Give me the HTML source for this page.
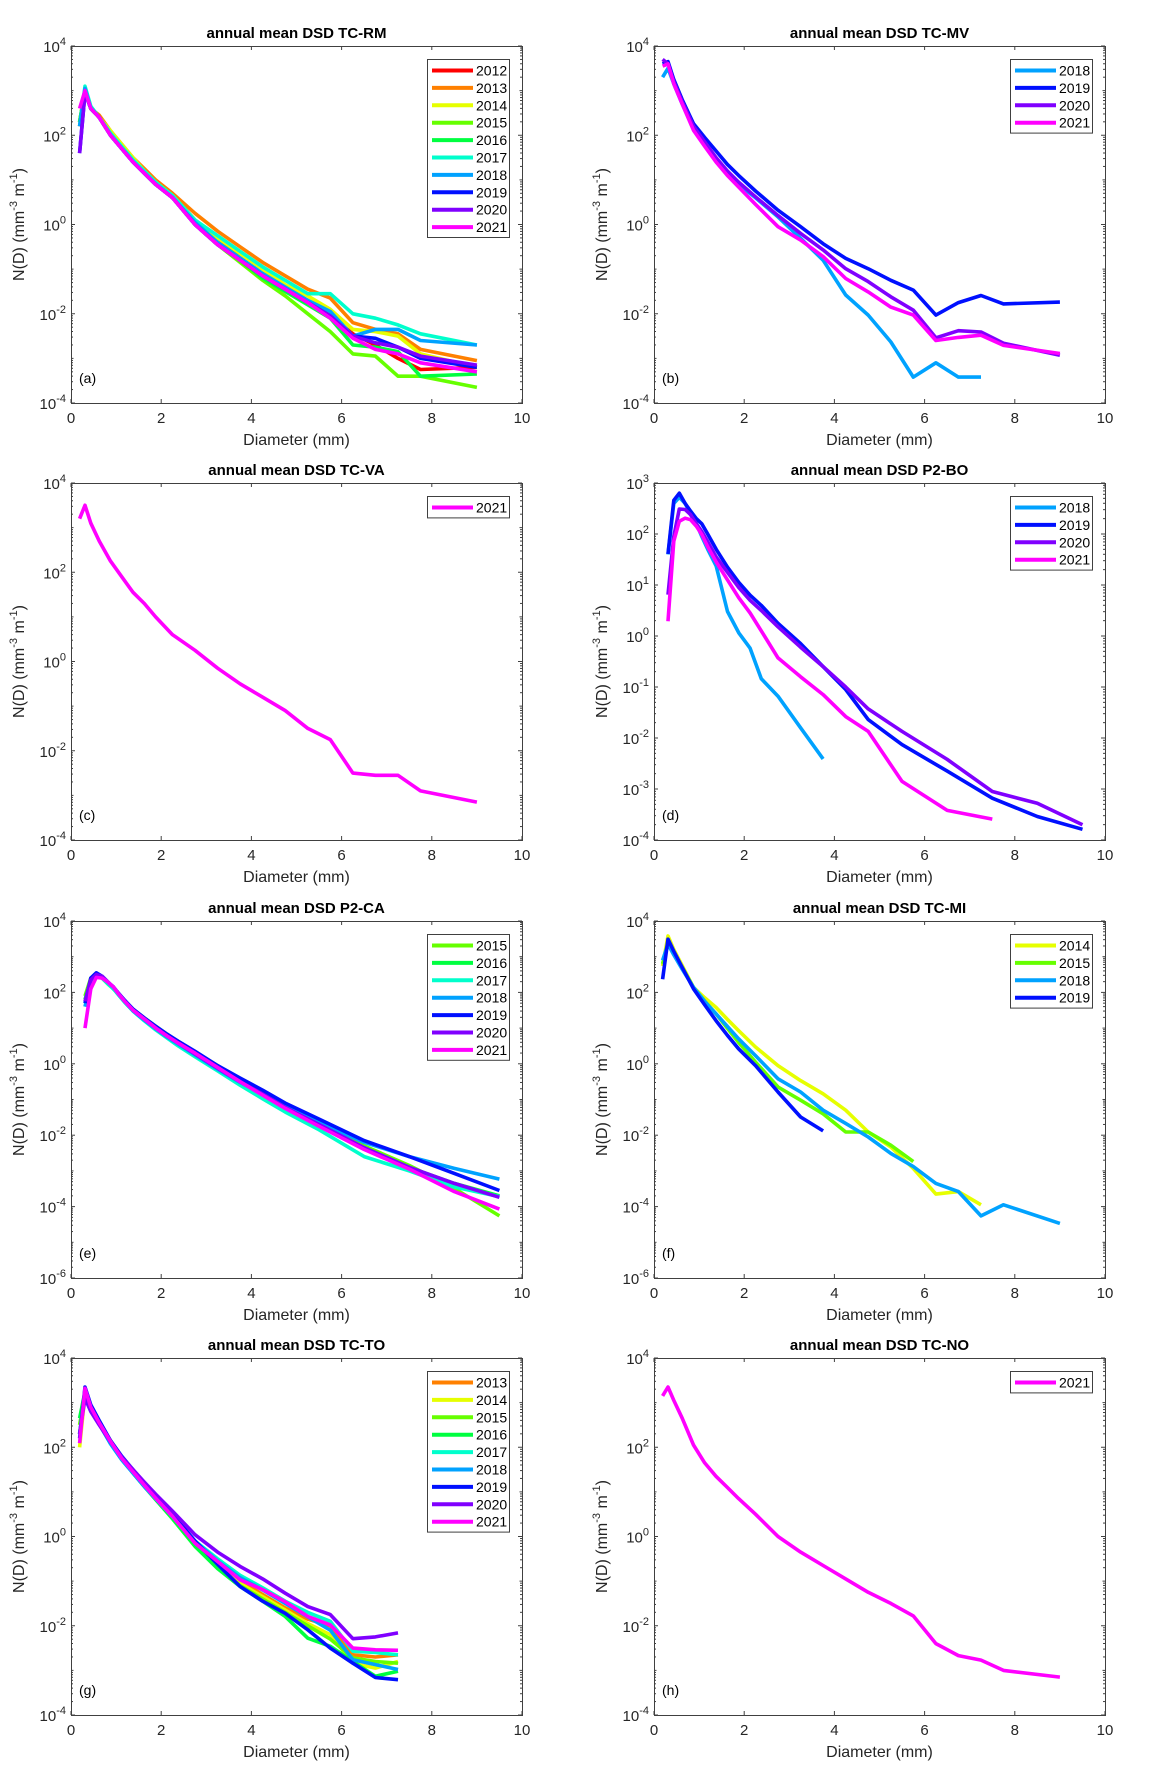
<!DOCTYPE html>
<html><head><meta charset="utf-8"><style>
html,body{margin:0;padding:0;background:#fff;}
svg{display:block;font-family:"Liberation Sans",Arial,sans-serif;}
</style></head><body>
<svg id="fig" width="1174" height="1775" viewBox="0 0 1174 1775" xmlns="http://www.w3.org/2000/svg"></svg>
<script>
// ---- Data (log10 of N(D)) ----
const xThies = [0.19,0.31,0.44,0.625,0.875,1.125,1.375,1.625,1.875,2.25,2.75,3.25,3.75,4.25,4.75,5.25,5.75,6.25,6.75,7.25,7.75,9];
const xParsivel = [0.31,0.44,0.56,0.69,0.81,0.94,1.06,1.19,1.38,1.63,1.88,2.13,2.38,2.75,3.25,3.75,4.25,4.75,5.5,6.5,7.5,8.5,9.5];
const years = ['2012','2013','2014','2015','2016','2017','2018','2019','2020','2021'];
const yearColors = ['#ff0000','#ff8000','#e6ff00','#66ff00','#00ff40','#00ffcc','#00a2ff','#0010ff','#8000ff','#ff00ff'];

// Panel a TC-RM
const a2012 = [2.2,3.0,2.6,2.4,2.05,1.75,1.45,1.2,0.95,0.65,0.1,-0.35,-0.75,-1.1,-1.4,-1.7,-2.05,-2.45,-2.7,-3.0,-3.25,-3.2];
const a2013 = [2.3,3.0,2.6,2.45,2.1,1.8,1.5,1.25,1.0,0.7,0.25,-0.15,-0.5,-0.85,-1.15,-1.45,-1.65,-2.2,-2.35,-2.45,-2.8,-3.05];
const a2014 = [2.3,3.0,2.6,2.4,2.1,1.8,1.5,1.2,0.95,0.65,0.1,-0.3,-0.65,-1.0,-1.35,-1.6,-1.9,-2.35,-2.4,-2.5,-2.9,-3.2];
const a2015 = [2.3,3.0,2.6,2.4,2.0,1.7,1.4,1.15,0.9,0.6,0.0,-0.45,-0.85,-1.25,-1.6,-2.0,-2.4,-2.9,-2.95,-3.4,-3.4,-3.65];
const a2016 = [2.3,3.0,2.6,2.4,2.0,1.7,1.4,1.15,0.9,0.6,0.0,-0.45,-0.8,-1.2,-1.5,-1.8,-2.1,-2.7,-2.75,-2.85,-3.4,-3.35];
const a2017 = [2.2,3.1,2.65,2.4,2.05,1.75,1.45,1.2,0.95,0.65,0.1,-0.25,-0.6,-0.95,-1.25,-1.55,-1.55,-2.0,-2.1,-2.25,-2.45,-2.7];
const a2018 = [2.2,3.05,2.6,2.4,2.0,1.7,1.4,1.15,0.9,0.6,0.05,-0.4,-0.75,-1.1,-1.4,-1.7,-1.95,-2.5,-2.35,-2.35,-2.6,-2.7];
const a2019 = [1.6,2.95,2.6,2.4,2.0,1.7,1.4,1.15,0.9,0.6,0.0,-0.45,-0.8,-1.15,-1.45,-1.75,-2.05,-2.5,-2.55,-2.75,-3.0,-3.2];
const a2020 = [1.6,2.95,2.6,2.4,2.0,1.7,1.4,1.15,0.9,0.6,0.0,-0.45,-0.8,-1.15,-1.45,-1.75,-2.05,-2.5,-2.65,-2.75,-2.95,-3.15];
const a2021 = [2.6,3.0,2.6,2.4,2.0,1.7,1.4,1.15,0.9,0.6,0.0,-0.45,-0.8,-1.15,-1.45,-1.75,-2.1,-2.55,-2.8,-2.9,-3.1,-3.3];
// Panel b TC-MV
const b2018 = [3.3,3.5,3.15,2.7,2.15,1.8,1.45,1.15,0.9,0.6,0.17,-0.31,-0.8,-1.58,-2.03,-2.63,-3.42,-3.1,-3.42,-3.42];
const b2019 = [3.6,3.65,3.25,2.8,2.26,1.95,1.65,1.35,1.1,0.75,0.32,-0.05,-0.43,-0.76,-0.99,-1.25,-1.47,-2.03,-1.75,-1.59,-1.78,-1.74];
const b2020 = [3.7,3.6,3.2,2.75,2.2,1.85,1.5,1.2,0.95,0.62,0.2,-0.2,-0.57,-0.99,-1.28,-1.62,-1.92,-2.54,-2.38,-2.41,-2.66,-2.93];
const b2021 = [3.55,3.6,3.15,2.7,2.11,1.75,1.4,1.1,0.84,0.45,-0.05,-0.35,-0.72,-1.21,-1.51,-1.85,-2.03,-2.6,-2.53,-2.48,-2.71,-2.89];
// Panel c TC-VA
const c2021 = [3.2,3.5,3.1,2.7,2.25,1.9,1.55,1.3,1.0,0.6,0.25,-0.15,-0.5,-0.8,-1.1,-1.5,-1.75,-2.5,-2.55,-2.55,-2.9,-3.15];
// Panel d P2-BO
const d2018 = [1.6,2.6,2.72,2.6,2.4,2.2,1.95,1.7,1.37,0.48,0.06,-0.24,-0.84,-1.18,-1.8,-2.41];
const d2019 = [1.61,2.66,2.8,2.6,2.45,2.3,2.2,2.0,1.7,1.35,1.05,0.8,0.6,0.25,-0.15,-0.6,-1.05,-1.64,-2.13,-2.65,-3.18,-3.54,-3.79];
const d2020 = [0.81,1.95,2.49,2.48,2.38,2.2,2.05,1.85,1.55,1.25,0.95,0.7,0.5,0.18,-0.22,-0.6,-1.0,-1.43,-1.87,-2.42,-3.05,-3.28,-3.7];
const d2021 = [0.29,1.86,2.25,2.31,2.28,2.15,1.99,1.75,1.45,1.1,0.75,0.45,0.1,-0.43,-0.8,-1.15,-1.58,-1.87,-2.85,-3.42,-3.59];
// Panel e P2-CA
const e2015 = [1.9,2.4,2.5,2.4,2.25,2.1,1.95,1.75,1.52,1.28,1.05,0.83,0.62,0.33,-0.05,-0.45,-0.82,-1.18,-1.7,-2.3,-2.85,-3.49,-4.26];
const e2016 = [1.8,2.35,2.5,2.4,2.25,2.1,1.95,1.75,1.52,1.27,1.03,0.8,0.6,0.3,-0.1,-0.48,-0.86,-1.22,-1.72,-2.35,-2.9,-3.35,-3.7];
const e2017 = [1.7,2.3,2.45,2.4,2.25,2.1,1.92,1.72,1.47,1.2,0.95,0.72,0.5,0.2,-0.2,-0.6,-0.98,-1.35,-1.85,-2.6,-3.0,-3.45,-3.72];
const e2018 = [1.6,2.3,2.5,2.45,2.3,2.15,1.95,1.75,1.48,1.22,0.98,0.75,0.55,0.25,-0.15,-0.52,-0.85,-1.2,-1.65,-2.2,-2.6,-2.93,-3.23];
const e2019 = [1.7,2.4,2.55,2.45,2.3,2.15,1.97,1.78,1.53,1.28,1.05,0.83,0.63,0.35,-0.05,-0.4,-0.74,-1.1,-1.55,-2.15,-2.6,-3.07,-3.55];
const e2020 = [1.75,2.35,2.5,2.45,2.3,2.15,1.95,1.75,1.5,1.25,1.0,0.78,0.58,0.28,-0.12,-0.5,-0.85,-1.22,-1.7,-2.35,-2.9,-3.35,-3.74];
const e2021 = [1.0,2.1,2.42,2.4,2.3,2.15,1.95,1.75,1.5,1.25,1.0,0.78,0.58,0.3,-0.1,-0.5,-0.88,-1.25,-1.75,-2.4,-2.95,-3.58,-4.07];
// Panel f TC-MI
const f2014 = [2.74,3.58,3.2,2.75,2.14,1.85,1.58,1.25,0.93,0.47,-0.05,-0.47,-0.84,-1.3,-1.91,-2.33,-2.93,-3.65,-3.58,-3.95];
const f2015 = [2.8,3.4,3.1,2.7,2.14,1.75,1.4,1.0,0.6,0.05,-0.65,-1.02,-1.4,-1.91,-1.91,-2.28,-2.74];
const f2018 = [2.9,3.35,3.05,2.65,2.14,1.75,1.4,1.05,0.7,0.23,-0.42,-0.79,-1.3,-1.67,-2.05,-2.51,-2.88,-3.35,-3.58,-4.26,-3.95,-4.47];
const f2019 = [2.37,3.49,3.15,2.7,2.1,1.65,1.21,0.8,0.42,-0.05,-0.79,-1.49,-1.88];
// Panel g TC-TO
const g2013 = [2.3,3.2,2.85,2.55,2.15,1.78,1.45,1.15,0.86,0.43,-0.15,-0.6,-1.0,-1.3,-1.6,-1.85,-2.0,-2.65,-2.7,-2.65];
const g2014 = [2.0,3.2,2.85,2.55,2.15,1.78,1.45,1.15,0.86,0.43,-0.17,-0.65,-1.05,-1.35,-1.65,-1.95,-2.2,-2.84,-2.95,-2.8];
const g2015 = [2.5,3.2,2.85,2.55,2.12,1.75,1.42,1.12,0.83,0.4,-0.22,-0.7,-1.1,-1.4,-1.7,-2.0,-2.3,-2.72,-2.8,-2.84];
const g2016 = [2.65,3.25,2.85,2.55,2.12,1.75,1.42,1.12,0.83,0.4,-0.22,-0.72,-1.12,-1.45,-1.79,-2.28,-2.46,-2.8,-3.13,-3.02];
const g2017 = [2.3,3.2,2.85,2.52,2.08,1.72,1.42,1.12,0.85,0.45,-0.1,-0.5,-0.87,-1.15,-1.45,-1.7,-1.9,-2.57,-2.6,-2.65];
const g2018 = [2.3,3.2,2.85,2.52,2.08,1.72,1.42,1.12,0.85,0.45,-0.1,-0.55,-0.92,-1.2,-1.5,-1.8,-2.1,-2.76,-2.87,-2.98];
const g2019 = [2.2,3.35,2.95,2.6,2.15,1.8,1.5,1.2,0.92,0.5,-0.1,-0.62,-1.12,-1.45,-1.72,-2.09,-2.5,-2.84,-3.16,-3.21];
const g2020 = [2.3,3.1,2.8,2.5,2.12,1.78,1.5,1.22,0.95,0.57,0.04,-0.35,-0.67,-0.95,-1.27,-1.57,-1.75,-2.29,-2.25,-2.16];
const g2021 = [2.09,3.32,2.9,2.55,2.13,1.75,1.45,1.15,0.86,0.45,-0.15,-0.56,-0.97,-1.19,-1.46,-1.79,-1.98,-2.5,-2.54,-2.55];
// Panel h TC-NO
const h2021 = [3.15,3.35,3.05,2.65,2.05,1.65,1.35,1.1,0.85,0.5,0.0,-0.35,-0.65,-0.95,-1.25,-1.5,-1.78,-2.4,-2.67,-2.77,-3.0,-3.15];

const xTicks = [0,2,4,6,8,10];

const panels = [
 {id:'a',title:'annual mean DSD TC-RM',col:0,row:0,yMin:-4,yMax:4,step:2,x:xThies,s:[['2012',a2012],['2013',a2013],['2014',a2014],['2015',a2015],['2016',a2016],['2017',a2017],['2018',a2018],['2019',a2019],['2020',a2020],['2021',a2021]]},
 {id:'b',title:'annual mean DSD TC-MV',col:1,row:0,yMin:-4,yMax:4,step:2,x:xThies,s:[['2018',b2018],['2019',b2019],['2020',b2020],['2021',b2021]]},
 {id:'c',title:'annual mean DSD TC-VA',col:0,row:1,yMin:-4,yMax:4,step:2,x:xThies,s:[['2021',c2021]]},
 {id:'d',title:'annual mean DSD P2-BO',col:1,row:1,yMin:-4,yMax:3,step:1,x:xParsivel,s:[['2018',d2018],['2019',d2019],['2020',d2020],['2021',d2021]]},
 {id:'e',title:'annual mean DSD P2-CA',col:0,row:2,yMin:-6,yMax:4,step:2,x:xParsivel,s:[['2015',e2015],['2016',e2016],['2017',e2017],['2018',e2018],['2019',e2019],['2020',e2020],['2021',e2021]]},
 {id:'f',title:'annual mean DSD TC-MI',col:1,row:2,yMin:-6,yMax:4,step:2,x:xThies,s:[['2014',f2014],['2015',f2015],['2018',f2018],['2019',f2019]]},
 {id:'g',title:'annual mean DSD TC-TO',col:0,row:3,yMin:-4,yMax:4,step:2,x:xThies,s:[['2013',g2013],['2014',g2014],['2015',g2015],['2016',g2016],['2017',g2017],['2018',g2018],['2019',g2019],['2020',g2020],['2021',g2021]]},
 {id:'h',title:'annual mean DSD TC-NO',col:1,row:3,yMin:-4,yMax:4,step:2,x:xThies,s:[['2021',h2021]]}
];

const NS='http://www.w3.org/2000/svg';
const svg=document.getElementById('fig');
function mk(tag,attrs,parent){const e=document.createElementNS(NS,tag);for(const k in attrs)e.setAttribute(k,attrs[k]);(parent||svg).appendChild(e);return e;}
const colL=[71,654], W=451, rowT=[46,483,921,1358], H=357;

panels.forEach(p=>{
  const L=colL[p.col], T=rowT[p.row], R=L+W, B=T+H;
  const g=mk('g',{});
  
  
  const xs=v=>L+v/10*W;
  const ys=v=>B-(v-p.yMin)/(p.yMax-p.yMin)*H;
  // ticks
  const tk=mk('g',{stroke:'#404040','stroke-width':1},g);
  xTicks.forEach(t=>{const X=xs(t);mk('line',{x1:X,x2:X,y1:B,y2:B-4},tk);mk('line',{x1:X,x2:X,y1:T,y2:T+4},tk);});
  for(let d=p.yMin; d<=p.yMax; d++){
    const Y=ys(d);const major=((d-p.yMin)%p.step===0);
    const len=major?4:2.5;
    mk('line',{x1:L,x2:L+len,y1:Y,y2:Y},tk);mk('line',{x1:R,x2:R-len,y1:Y,y2:Y},tk);
    if(d<p.yMax){for(let k=2;k<=9;k++){const Ym=ys(d+Math.log10(k));mk('line',{x1:L,x2:L+2,y1:Ym,y2:Ym},tk);mk('line',{x1:R,x2:R-2,y1:Ym,y2:Ym},tk);}}
  }
  // x tick labels
  xTicks.forEach(t=>{const tx=mk('text',{x:xs(t),y:B+20,'text-anchor':'middle','font-size':15,fill:'#262626'},g);tx.textContent=t;
    
    });
  // y tick labels
  for(let d=p.yMin; d<=p.yMax; d+=p.step){
    const Y=ys(d);
    const tx=mk('text',{x:L-5,y:Y+6,'text-anchor':'end','font-size':15,fill:'#262626'},g);
    
    
    const t1=mk('tspan',{},tx);t1.textContent='10';
    const t2=mk('tspan',{dy:-7,'font-size':11},tx);t2.textContent=String(d);
  }
  // series
  const sg=mk('g',{fill:'none','stroke-width':3.6,'stroke-linejoin':'round','stroke-linecap':'butt'},g);
  p.s.forEach(([yr,vals])=>{
    const c=yearColors[years.indexOf(yr)];
    const pts=vals.map((v,i)=>xs(p.x[i]).toFixed(1)+','+ys(v).toFixed(1)).join(' ');
    const pl=mk('polyline',{points:pts,stroke:c},sg);
    
    
  });
  // box
  const box=mk('rect',{x:L+0.5,y:T+0.5,width:W,height:H,fill:'none',stroke:'#404040','stroke-width':1},g);
  
  
  // title
  const ti=mk('text',{x:(L+R)/2,y:T-8,'text-anchor':'middle','font-size':15,'font-weight':'bold',fill:'#000'},g);
  ti.textContent=p.title;
  
  
  // x label
  const xl=mk('text',{x:(L+R)/2,y:B+42,'text-anchor':'middle','font-size':16,fill:'#262626'},g);
  xl.textContent='Diameter (mm)';
  
  
  // y label
  const yl=mk('text',{transform:'translate('+(L-47)+','+(T+H/2)+') rotate(-90)','text-anchor':'middle','font-size':16,fill:'#262626'},g);
  
  
  const y1=mk('tspan',{},yl);y1.textContent='N(D) (mm';
  const y2=mk('tspan',{dy:-7,'font-size':11},yl);y2.textContent='-3';
  const y3=mk('tspan',{dy:7},yl);y3.textContent=' m';
  const y4=mk('tspan',{dy:-7,'font-size':11},yl);y4.textContent='-1';
  const y5=mk('tspan',{dy:7},yl);y5.textContent=')';
  // panel label
  const pl=mk('text',{x:L+8,y:B-20,'font-size':14,fill:'#000'},g);
  pl.textContent='('+p.id+')';
  
  
  // legend
  const n=p.s.length, lw=82, lh=17.4*n+4, lx=R-13-lw, ly=T+13;
  const lg=mk('g',{},g);
  
  
  mk('rect',{x:lx+0.5,y:ly+0.5,width:lw,height:lh,fill:'#fff',stroke:'#404040','stroke-width':1},lg);
  p.s.forEach(([yr],i)=>{
    const cy=ly+2+17.4*i+9.5;
    const en=mk('g',{},lg);
    
    
    mk('line',{x1:lx+5,x2:lx+46,y1:cy,y2:cy,stroke:yearColors[years.indexOf(yr)],'stroke-width':4},en);
    const t=mk('text',{x:lx+49,y:cy+5,'font-size':14,fill:'#000'},en);t.textContent=yr;
  });
});
</script>
</body></html>
